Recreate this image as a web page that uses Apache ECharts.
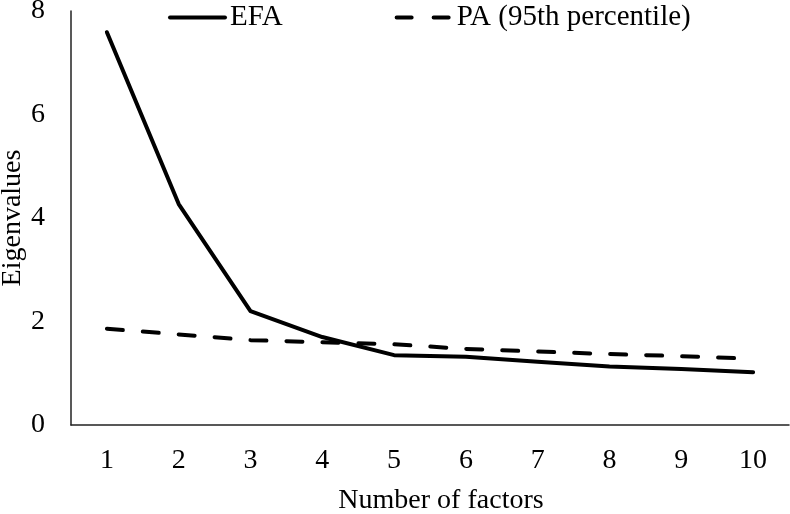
<!DOCTYPE html>
<html>
<head>
<meta charset="utf-8">
<script src="https://cdn.jsdelivr.net/npm/echarts@6/dist/echarts.min.js"></script>
<style>html,body{margin:0;padding:0;background:#fff;}#c{width:790px;height:514px;}</style>
</head>
<body>
<div id="c"></div>
<script>
const categories = ['1','2','3','4','5','6','7','8','9','10'];
const efa = [7.59, 4.27, 2.20, 1.70, 1.35, 1.32, 1.22, 1.13, 1.08, 1.02];
const pa = [1.86, 1.75, 1.64, 1.60, 1.56, 1.47, 1.42, 1.37, 1.33, 1.28];
const yTicks = [0, 2, 4, 6, 8];

const font = '"Liberation Serif", "Times New Roman", serif';
const chart = echarts.init(document.getElementById('c'), null, {renderer: 'canvas'});
chart.setOption({
  animation: false,
  backgroundColor: '#fff',
  textStyle: {fontFamily: font, color: '#000'},
  legend: {
    left: 163, top: -2,
    itemWidth: 55, itemHeight: 14, itemGap: 112,
    itemStyle: {opacity: 0},
    lineStyle: {width: 4, cap: 'round'},
    textStyle: {fontFamily: font, fontSize: 29, color: '#000'},
    data: [
      {name: 'EFA'},
      {name: 'PA (95th percentile)', lineStyle: {type: [15, 22], width: 4}}
    ]
  },
  grid: {left: 71, right: 1, top: 11, bottom: 89, outerBoundsMode: 'none', containLabel: false},
  xAxis: {
    type: 'category', data: categories, boundaryGap: true,
    name: 'Number of factors', nameLocation: 'middle', nameGap: 62,
    nameTextStyle: {fontFamily: font, fontSize: 28, color: '#000', padding: [0,0,0,22]},
    axisLine: {lineStyle: {color: '#222', width: 1.5}},
    axisTick: {show: false},
    axisLabel: {fontFamily: font, fontSize: 28, color: '#000', margin: 22}
  },
  yAxis: {
    type: 'value', min: yTicks[0], max: yTicks[yTicks.length-1], interval: 2,
    name: 'Eigenvalues', nameLocation: 'middle', nameGap: 44, nameMoveOverlap: false,
    nameTextStyle: {fontFamily: font, fontSize: 28, color: '#000'},
    axisLine: {show: true, lineStyle: {color: '#222', width: 1.5}},
    axisTick: {show: false},
    splitLine: {show: false},
    axisLabel: {fontFamily: font, fontSize: 28, color: '#000', margin: 26}
  },
  series: [
    {name: 'EFA', type: 'line', data: efa, symbol: 'none',
     lineStyle: {color: '#000', width: 4, cap: 'round', join: 'round'}, itemStyle: {color: '#000'}},
    {name: 'PA (95th percentile)', type: 'line', data: pa, symbol: 'none',
     lineStyle: {color: '#000', width: 4, type: [16, 20], cap: 'round'}, itemStyle: {color: '#000'}}
  ]
});
</script>
</body>
</html>
